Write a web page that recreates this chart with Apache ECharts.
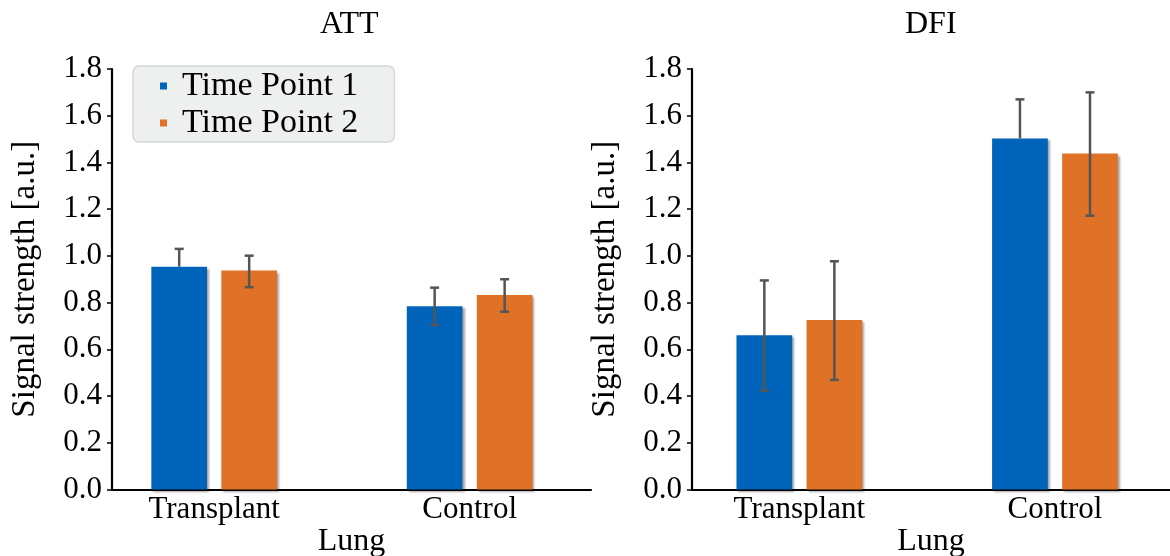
<!DOCTYPE html>
<html>
<head>
<meta charset="utf-8">
<script src="https://cdn.jsdelivr.net/npm/echarts@6/dist/echarts.min.js"></script>
<style>
html,body{margin:0;padding:0;background:#fff;}
#chart{width:1170px;height:556px;}
</style>
</head>
<body>
<div id="chart"></div>
<script>
// ---- data ----
const categories = ['Transplant', 'Control'];
const seriesNames = ['Time Point 1', 'Time Point 2'];
const panelTitles = ['ATT', 'DFI'];
const yTicks = [0.0, 0.2, 0.4, 0.6, 0.8, 1.0, 1.2, 1.4, 1.6, 1.8];

const attTP1 = [0.954, 0.784];
const attTP1Low = [null, 0.704];
const attTP1High = [1.030, 0.864];
const attTP2 = [0.937, 0.833];
const attTP2Low = [0.866, 0.761];
const attTP2High = [1.001, 0.900];

const dfiTP1 = [0.660, 1.503];
const dfiTP1Low = [0.422, null];
const dfiTP1High = [0.895, 1.670];
const dfiTP2 = [0.726, 1.438];
const dfiTP2Low = [0.469, 1.172];
const dfiTP2High = [0.977, 1.700];

// ---- style ----
const FONT = 'Liberation Serif';
const COLORS = ['#0064ba', '#e07227'];
const ERR_COLOR = '#555555';
const BAR_W = 0.218;
const OFFSETS = [-0.137, 0.137];

function txt(size) {
  return { fontFamily: FONT, fontSize: size, fontWeight: 'normal', fontStyle: 'normal', color: '#000' };
}

function barSeries(name, vals, gridIdx, si) {
  return {
    type: 'custom', name: name,
    xAxisIndex: gridIdx, yAxisIndex: gridIdx,
    itemStyle: { color: COLORS[si] },
    z: 2,
    data: vals.map((v, i) => [i, v]),
    renderItem: function (params, api) {
      const x = api.value(0) + OFFSETS[si];
      const y = api.value(1);
      const p0 = api.coord([x - BAR_W / 2, y]);
      const p1 = api.coord([x + BAR_W / 2, 0]);
      return {
        type: 'rect',
        shape: { x: p0[0], y: p0[1], width: p1[0] - p0[0], height: p1[1] - p0[1] },
        style: { fill: COLORS[si], shadowColor: 'rgba(0,0,0,0.35)', shadowBlur: 2, shadowOffsetX: 2, shadowOffsetY: 2 }
      };
    }
  };
}

function errSeries(name, vals, lows, highs, gridIdx, si) {
  return {
    type: 'custom', name: name,
    xAxisIndex: gridIdx, yAxisIndex: gridIdx,
    itemStyle: { color: COLORS[si] },
    z: 5, silent: true,
    data: vals.map((v, i) => [i, lows[i] == null ? v : lows[i], highs[i], lows[i] == null ? 0 : 1]),
    renderItem: function (params, api) {
      const x = api.value(0) + OFFSETS[si];
      const lo = api.coord([x, api.value(1)]);
      const hi = api.coord([x, api.value(2)]);
      const hasLow = api.value(3) === 1;
      const cap = 4.5;
      const st = { stroke: ERR_COLOR, lineWidth: 2.5 };
      const children = [
        { type: 'line', shape: { x1: lo[0], y1: lo[1], x2: hi[0], y2: hi[1] }, style: st },
        { type: 'line', shape: { x1: hi[0] - cap, y1: hi[1], x2: hi[0] + cap, y2: hi[1] }, style: st }
      ];
      if (hasLow) {
        children.push({ type: 'line', shape: { x1: lo[0] - cap, y1: lo[1], x2: lo[0] + cap, y2: lo[1] }, style: st });
      }
      return { type: 'group', children: children };
    }
  };
}

function xAxisDef(gridIdx, min, max, interval) {
  return {
    type: 'value', gridIndex: gridIdx, min: min, max: max, interval: interval,
    name: 'Lung', nameLocation: 'middle', nameGap: 36, nameMoveOverlap: false,
    nameTextStyle: txt(32),
    axisLine: { show: true, onZero: false, lineStyle: { color: '#000', width: 2.2 } },
    axisTick: { show: false },
    splitLine: { show: false },
    axisLabel: Object.assign(txt(31), {
      margin: 5, showMinLabel: true, showMaxLabel: true,
      formatter: function (v) {
        const r = Math.round(v);
        if (Math.abs(v - r) < 1e-6 && r >= 0 && r < categories.length) return categories[r];
        return '';
      }
    })
  };
}

function yAxisDef(gridIdx) {
  return {
    type: 'value', gridIndex: gridIdx, min: yTicks[0], max: yTicks[yTicks.length - 1], interval: 0.2,
    name: 'Signal strength [a.u.]', nameLocation: 'middle', nameGap: 70, nameMoveOverlap: false,
    nameTextStyle: txt(33),
    axisLine: { show: true, onZero: false, lineStyle: { color: '#000', width: 2.2 } },
    axisTick: { show: true, inside: false, length: 5, lineStyle: { color: '#000', width: 1.5 } },
    splitLine: { show: false },
    axisLabel: Object.assign(txt(31), { margin: 10, formatter: v => v.toFixed(1) })
  };
}

const chart = echarts.init(document.getElementById('chart'), null, { renderer: 'canvas' });
chart.setOption({
  backgroundColor: '#ffffff',
  animation: false,
  textStyle: txt(31),
  title: [
    { text: panelTitles[0], left: 320, top: 9, padding: 0, textStyle: txt(32) },
    { text: panelTitles[1], left: 905, top: 9, padding: 0, textStyle: txt(32) }
  ],
  legend: {
    orient: 'vertical', left: 133, top: 66,
    data: seriesNames,
    icon: 'rect', itemWidth: 7, itemHeight: 7, itemGap: 3,
    padding: [3, 36, 2, 27],
    backgroundColor: '#eef0ef', borderColor: '#d6d8d7', borderWidth: 1.5, borderRadius: 6,
    textStyle: Object.assign(txt(34), { padding: [0, 0, 0, 10] })
  },
  grid: [
    { left: 112, top: 69, width: 479, height: 420.5, containLabel: false, outerBoundsMode: 'none' },
    { left: 692, top: 69, width: 478, height: 420.5, containLabel: false, outerBoundsMode: 'none' }
  ],
  xAxis: [xAxisDef(0, -0.4, 1.475, 0.2), xAxisDef(1, -0.42, 1.45, 0.02)],
  yAxis: [yAxisDef(0), yAxisDef(1)],
  series: [
    barSeries(seriesNames[0], attTP1, 0, 0),
    barSeries(seriesNames[1], attTP2, 0, 1),
    errSeries(seriesNames[0], attTP1, attTP1Low, attTP1High, 0, 0),
    errSeries(seriesNames[1], attTP2, attTP2Low, attTP2High, 0, 1),
    barSeries(seriesNames[0], dfiTP1, 1, 0),
    barSeries(seriesNames[1], dfiTP2, 1, 1),
    errSeries(seriesNames[0], dfiTP1, dfiTP1Low, dfiTP1High, 1, 0),
    errSeries(seriesNames[1], dfiTP2, dfiTP2Low, dfiTP2High, 1, 1)
  ]
});
</script>
</body>
</html>
